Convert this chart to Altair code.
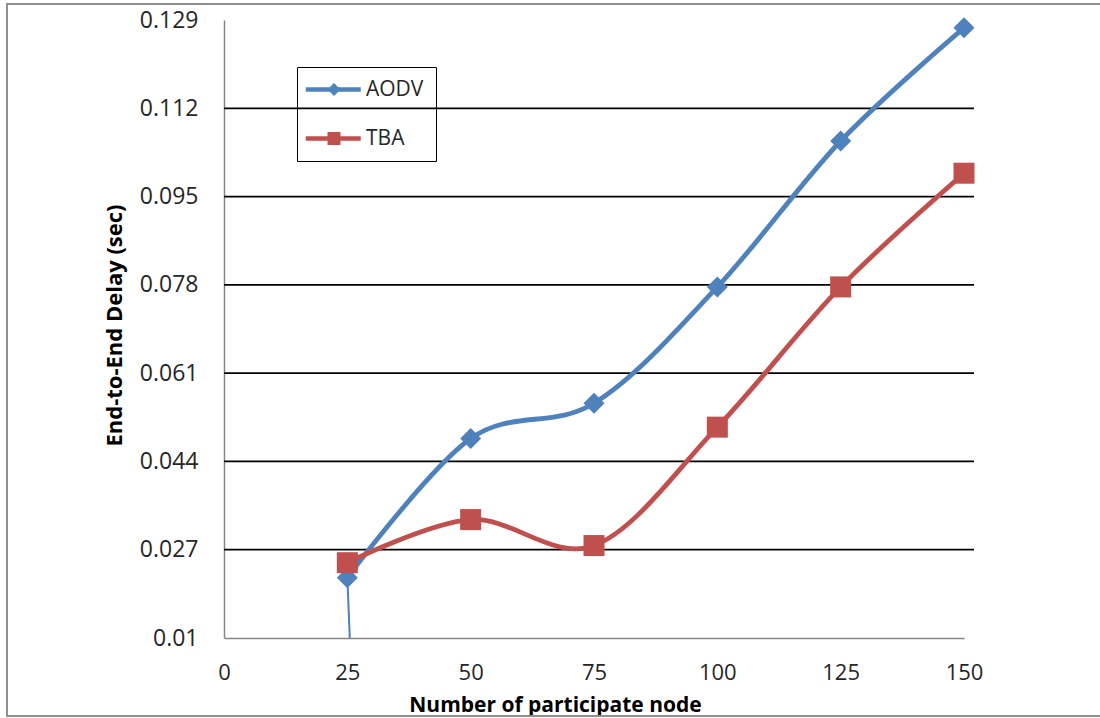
import altair as alt
import pandas as pd

# ---- data ----
nodes = [25, 50, 75, 100, 125, 150]
aodv = [0.0216, 0.0484, 0.0552, 0.0776, 0.1057, 0.1275]
tba = [0.0245, 0.0328, 0.0278, 0.0506, 0.0776, 0.0995]
# thin AODV lead-in segment that runs below the axis near x=25
aodv_tail_x = [25.0, 25.5]
aodv_tail_y = [0.0216, 0.0100]

y_ticks = [0.01, 0.027, 0.044, 0.061, 0.078, 0.095, 0.112, 0.129]
x_ticks = [0, 25, 50, 75, 100, 125, 150]
series_names = ["AODV", "TBA"]
series_colors = ["#4F81BD", "#C0504D"]
series_shapes = ["diamond", "square"]

W, H = 740, 618
FONT = "Open Sans"

rows = []
for i, n in enumerate(nodes):
    rows.append({"node": n, "delay": aodv[i], "series": "AODV", "order": i})
    rows.append({"node": n, "delay": tba[i], "series": "TBA", "order": i})
df = pd.DataFrame(rows)
tail_df = pd.DataFrame({"node": aodv_tail_x, "delay": aodv_tail_y})
grid_df = pd.DataFrame({"g": y_ticks[1:-1]})

x_scale = alt.Scale(domain=[0, 150], nice=False, zero=False)
y_scale = alt.Scale(domain=[0.01, 0.129], nice=False, zero=False)
color_scale = alt.Scale(domain=series_names, range=series_colors)

x_axis = alt.Axis(values=x_ticks, ticks=False, grid=False, domainColor="#868686",
                  domainWidth=1.5, labelFont=FONT, labelFontSize=22, labelColor="#262626",
                  labelPadding=24, labelFlush=False, title="Number of participate node",
                  titleFont=FONT, titleFontSize=21, titleFontWeight="bold",
                  titleColor="#000000", titleX=331, titleY=73,
                  titleBaseline="alphabetic", titleAnchor="middle")
y_axis = alt.Axis(values=y_ticks, format=".3~f", ticks=False, grid=False,
                  domainColor="#868686", domainWidth=1.5, labelFont=FONT,
                  labelFontSize=23, labelColor="#262626", labelPadding=26,
                  labelFlush=False,
                  title="End-to-End Delay (sec)", titleFont=FONT, titleFontSize=22,
                  titleFontWeight="bold", titleColor="#000000", titleX=-110, titleY=305,
                  titleBaseline="middle", titleAngle=270, titleAlign="center")

border = alt.Chart(pd.DataFrame({"a": [0]})).mark_rect(
    fill=None, stroke="#8f8f8f", strokeWidth=2
).encode(x=alt.value(-217), x2=alt.value(W + 141), y=alt.value(-16), y2=alt.value(H + 78))

grid = alt.Chart(grid_df).mark_rule(color="#000000", strokeWidth=1.8).encode(
    y=alt.Y("g:Q", scale=y_scale, axis=y_axis),
    x=alt.value(0), x2=alt.value(W + 10)
)

tail = alt.Chart(tail_df).mark_line(color="#4F81BD", strokeWidth=2, clip=True).encode(
    x=alt.X("node:Q", scale=x_scale, axis=x_axis),
    y=alt.Y("delay:Q", scale=y_scale, axis=y_axis),
)

lines = alt.Chart(df).mark_line(interpolate="cardinal", strokeWidth=4.8, clip=True).encode(
    x=alt.X("node:Q", scale=x_scale, axis=x_axis),
    y=alt.Y("delay:Q", scale=y_scale, axis=y_axis),
    order="order:O",
    color=alt.Color("series:N", scale=color_scale, legend=alt.Legend(
        title=None, orient="none", legendX=73, legendY=47,
        symbolType="M-2.5,0H7.5", symbolSize=121, symbolStrokeWidth=4.5,
        labelFont=FONT, labelFontSize=21, labelColor="#262626", labelOffset=36,
        padding=12, rowPadding=27, strokeColor="#000000",
        )),
)

points = alt.Chart(df).mark_point(filled=True, opacity=1, size=441).encode(
    x=alt.X("node:Q", scale=x_scale, axis=x_axis),
    y=alt.Y("delay:Q", scale=y_scale, axis=y_axis),
    color=alt.Color("series:N", scale=color_scale, legend=alt.Legend(
        title=None, orient="none", legendX=87.5, legendY=47, symbolSize=169,
        symbolOpacity=1, labelFont=FONT, labelFontSize=21, labelExpr="' '",
        padding=12, rowPadding=27)),
    shape=alt.Shape("series:N", scale=alt.Scale(domain=series_names, range=series_shapes),
                    legend=alt.Legend(title=None, orient="none", legendX=87.5, legendY=47,
                                      symbolSize=169, labelFont=FONT, labelFontSize=21,
                                      labelExpr="' '", padding=12, rowPadding=27)),
)

chart = alt.layer(border, grid, tail, lines, points).resolve_legend(
    color="independent", shape="independent"
).properties(
    width=W, height=H,
    autosize=alt.AutoSizeParams(type="none"),
    padding={"left": 224, "top": 20, "right": 136, "bottom": 80},
    background="#ffffff",
).configure_view(stroke=None)

chart.save("out.html", embed_options={"renderer": "svg", "actions": False})
